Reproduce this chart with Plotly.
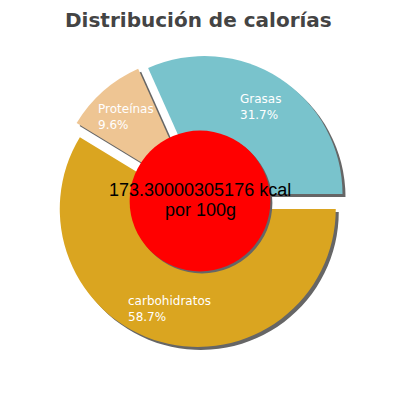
import math
import plotly.graph_objects as go

# chart data
labels = ['Grasas', 'Proteínas', 'carbohidratos']
percentages = [31.7, 9.6, 58.7]
colours = ['#79c3cc', '#eec593', '#daa520']
kcal_text = '173.30000305176 kcal'
per_text = 'por 100g'
title_text = 'Distribución de calorías'

# geometry (pixels on the 400x400 page)
SIZE = 400
PAGE_OFFSET = 8       # the page body margin moves the figure by this much
CENTRE_X = 200
CENTRE_Y = 201
RADIUS = 138
PULL = 0.06
SHADOW = 3
INNER = 0.51          # red circle as fraction of the pie radius
LABEL_R = 0.81        # label distance as fraction of the pie radius


def px_x(x):
    return (x - PAGE_OFFSET) / SIZE


def px_y(y):
    return 1 - (y - PAGE_OFFSET) / SIZE


def pie_domain(dx=0, dy=0):
    """
    Returns the domain of a pie centred on the chart centre

    :param dx: horizontal shift in pixels
    :param dy: vertical shift in pixels
    """
    half = RADIUS * (1 + PULL)
    return dict(
        x=[px_x(CENTRE_X + dx - half), px_x(CENTRE_X + dx + half)],
        y=[px_y(CENTRE_Y + dy + half), px_y(CENTRE_Y + dy - half)],
    )


def slice_labels():
    """
    Builds the annotations for each slice, placed along the bisector
    """
    annotations = []
    total = sum(percentages)
    start = 0
    for name, value in zip(labels, percentages):
        mid = (start + value / 2) / total * 2 * math.pi
        start += value
        x = CENTRE_X + LABEL_R * RADIUS * math.cos(mid)
        y = CENTRE_Y - LABEL_R * RADIUS * math.sin(mid)
        annotations.append(dict(
            x=px_x(x), y=px_y(y), xref='paper', yref='paper',
            text='{0}<br>{1}%'.format(name, value),
            showarrow=False, align='left',
            xanchor='center', yanchor='middle',
            font=dict(family='DejaVu Sans', size=12, color='white'),
        ))
    return annotations


def main():
    fig = go.Figure()

    # plotly puts the first slice clockwise of the rotation angle when
    # going counterclockwise, so rotate so that Grasas starts at 3 o'clock
    rotation = 90 - 360 * percentages[0] / sum(percentages)

    # shadow behind the slices
    fig.add_trace(go.Pie(
        labels=labels, values=percentages, sort=False,
        direction='counterclockwise', rotation=rotation,
        pull=[PULL] * len(labels),
        marker=dict(colors=['#666666'] * len(labels),
                    line=dict(width=0)),
        textinfo='none', hoverinfo='skip', showlegend=False,
        domain=pie_domain(SHADOW, SHADOW),
    ))

    # the slices
    fig.add_trace(go.Pie(
        labels=labels, values=percentages, sort=False,
        direction='counterclockwise', rotation=rotation,
        pull=[PULL] * len(labels),
        marker=dict(colors=colours, line=dict(width=0)),
        textinfo='none', showlegend=False,
        domain=pie_domain(),
    ))

    # red centre circle with its shadow
    r = INNER * RADIUS
    shapes = []
    for dx, colour in [(SHADOW - 1, '#666666'), (0, '#ff0000')]:
        shapes.append(dict(
            type='circle', xref='paper', yref='paper',
            x0=px_x(CENTRE_X + dx - r), x1=px_x(CENTRE_X + dx + r),
            y0=px_y(CENTRE_Y + dx + r), y1=px_y(CENTRE_Y + dx - r),
            fillcolor=colour, line=dict(width=0), layer='above',
        ))

    annotations = slice_labels()

    # text in the middle
    for text, y in [(kcal_text, CENTRE_Y - 11), (per_text, CENTRE_Y + 9)]:
        annotations.append(dict(
            x=px_x(CENTRE_X), y=px_y(y), xref='paper', yref='paper',
            text=text, showarrow=False,
            xanchor='center', yanchor='middle',
            font=dict(family='Liberation Sans', size=18, color='black'),
        ))

    # title
    annotations.append(dict(
        x=px_x(198), y=px_y(20), xref='paper', yref='paper',
        text='<b>' + title_text + '</b>', showarrow=False,
        xanchor='center', yanchor='middle', borderpad=0,
        font=dict(family='DejaVu Sans', size=20, color='#444444'),
    ))

    fig.update_layout(
        width=SIZE, height=SIZE,
        margin=dict(l=0, r=0, t=0, b=0),
        paper_bgcolor='white', plot_bgcolor='white',
        shapes=shapes, annotations=annotations,
    )

    fig.write_html('out.html')


if __name__ == '__main__':
    main()
